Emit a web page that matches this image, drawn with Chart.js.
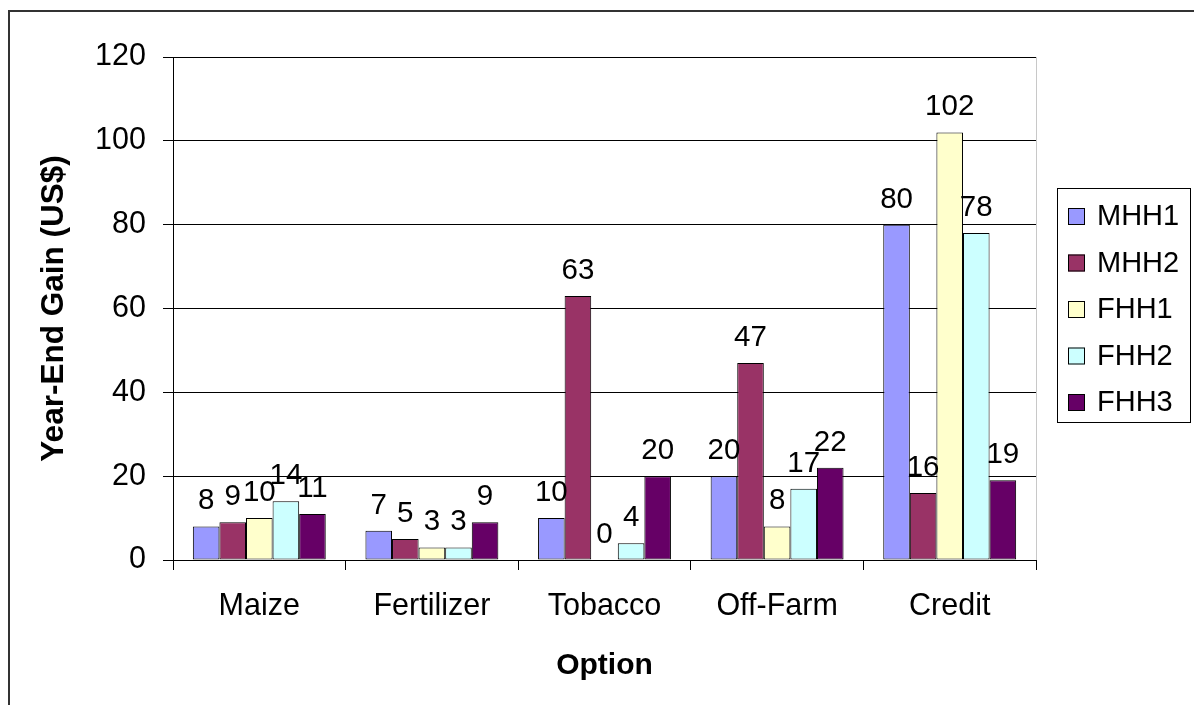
<!DOCTYPE html>
<html>
<head>
<meta charset="utf-8">
<script src="https://cdn.jsdelivr.net/npm/chart.js@4/dist/chart.umd.min.js"></script>
<style>
  html, body { margin: 0; padding: 0; background: #fff; }
  #wrap { width: 1194px; height: 705px; }
</style>
</head>
<body>
<div id="wrap"><canvas id="myChart" width="1194" height="705"></canvas></div>
<script>
// podatki
const options = ["Maize", "Fertilizer", "Tobacco", "Off-Farm", "Credit"];
const seriesNames = ["MHH1", "MHH2", "FHH1", "FHH2", "FHH3"];
const seriesColors = ["#9999FF", "#993366", "#FFFFCC", "#CCFFFF", "#660066"];
const mhh1 = [8, 7, 10, 20, 80];
const mhh2 = [9, 5, 63, 47, 16];
const fhh1 = [10, 3, 0, 8, 102];
const fhh2 = [14, 3, 4, 17, 78];
const fhh3 = [11, 9, 20, 22, 19];
const yTicks = [0, 20, 40, 60, 80, 100, 120];

const FONT = "'Liberation Sans', Arial, sans-serif";

// okvir slike + rob risalne površine
const framePlugin = {
  id: "frame",
  beforeDraw(chart) {
    const ctx = chart.ctx;
    ctx.save();
    ctx.fillStyle = "#fff";
    ctx.fillRect(0, 0, chart.width, chart.height);
    ctx.strokeStyle = "#333";
    ctx.lineWidth = 2;
    ctx.beginPath();
    ctx.moveTo(9, chart.height);
    ctx.lineTo(9, 11);
    ctx.lineTo(chart.width, 11);
    ctx.stroke();
    ctx.restore();
  },
  afterDraw(chart) {
    const a = chart.chartArea;
    const ctx = chart.ctx;
    ctx.save();
    ctx.strokeStyle = "#c8c8c8";
    ctx.lineWidth = 1;
    ctx.beginPath();
    ctx.moveTo(a.right + 0.5, a.top);
    ctx.lineTo(a.right + 0.5, a.bottom);
    ctx.stroke();
    ctx.restore();
  }
};

// vrednosti nad stolpci
const labelPlugin = {
  id: "barLabels",
  afterDatasetsDraw(chart) {
    const ctx = chart.ctx;
    ctx.save();
    ctx.font = "29.5px " + FONT;
    ctx.fillStyle = "#000";
    ctx.textAlign = "center";
    ctx.textBaseline = "alphabetic";
    chart.data.datasets.forEach((ds, i) => {
      const meta = chart.getDatasetMeta(i);
      meta.data.forEach((bar, j) => {
        ctx.fillText(String(ds.data[j]), bar.x, bar.y - 17);
      });
    });
    ctx.restore();
  }
};

// legenda v okvirju
const legendBoxPlugin = {
  id: "legendBox",
  afterDraw(chart) {
    const ctx = chart.ctx;
    const x0 = 1057, y0 = 188, w = 133, h = 234;
    ctx.save();
    ctx.strokeStyle = "#000";
    ctx.lineWidth = 1;
    ctx.strokeRect(x0 + 0.5, y0 + 0.5, w, h);
    ctx.font = "29px " + FONT;
    ctx.textBaseline = "middle";
    ctx.textAlign = "left";
    chart.data.datasets.forEach((ds, i) => {
      const cy = 216 + i * 46.5;
      ctx.fillStyle = ds.backgroundColor;
      ctx.fillRect(1068, cy - 8, 17, 17);
      ctx.strokeStyle = "#000";
      ctx.strokeRect(1068.5, cy - 7.5, 16, 16);
      ctx.fillStyle = "#000";
      ctx.fillText(ds.label, 1097, cy + 1);
    });
    ctx.restore();
  }
};

const seriesData = [mhh1, mhh2, fhh1, fhh2, fhh3];

const ctx = document.getElementById("myChart").getContext("2d");
const myChart = new Chart(ctx, {
  type: "bar",
  data: {
    labels: options,
    datasets: seriesNames.map((name, i) => ({
      label: name,
      data: seriesData[i],
      backgroundColor: seriesColors[i],
      borderColor: "#000",
      borderWidth: 1,
      borderSkipped: false,
      categoryPercentage: 0.77,
      barPercentage: 1.0
    }))
  },
  options: {
    responsive: false,
    animation: false,
    devicePixelRatio: 1,
    layout: { padding: { top: 57, right: 158, left: 0, bottom: 0 } },
    plugins: {
      legend: { display: false },
      tooltip: { enabled: false },
      title: { display: false }
    },
    scales: {
      x: {
        grid: {
          offset: true,
          drawOnChartArea: false,
          drawTicks: true,
          tickLength: 10,
          color: "#000",
          lineWidth: 1
        },
        border: { color: "#000", width: 1 },
        ticks: {
          color: "#000",
          font: { family: FONT, size: 30.5 },
          padding: 18,
          maxRotation: 0
        },
        title: {
          display: true,
          text: "Option",
          color: "#000",
          font: { family: FONT, size: 30, weight: "bold" },
          padding: { top: 0, bottom: 21 }
        },
        afterFit(scale) { scale.height = 145; }
      },
      y: {
        min: 0,
        max: 120,
        afterBuildTicks(scale) { scale.ticks = yTicks.map(v => ({ value: v })); },
        grid: {
          color: "#000",
          lineWidth: 1,
          drawTicks: true,
          tickLength: 10
        },
        border: { color: "#000", width: 1 },
        ticks: {
          color: "#000",
          font: { family: FONT, size: 30.5 },
          padding: 17
        },
        title: {
          display: true,
          text: "Year-End Gain (US$)",
          color: "#000",
          font: { family: FONT, size: 31.5, weight: "bold" },
          padding: { top: 35, bottom: 0 }
        },
        afterFit(scale) { scale.width = 173; }
      }
    }
  },
  plugins: [framePlugin, labelPlugin, legendBoxPlugin]
});
</script>
</body>
</html>
